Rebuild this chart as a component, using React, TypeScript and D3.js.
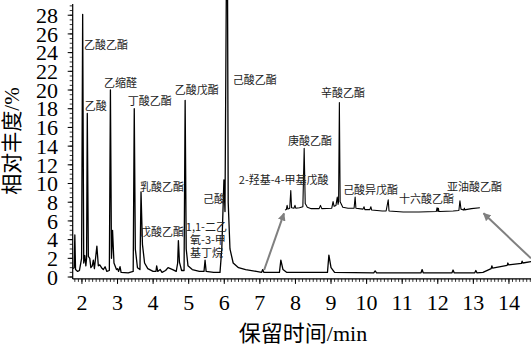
import React from "react";
import * as d3 from "d3";

// ---- data ----
const mainTime = [
  1.75, 1.78, 1.8, 1.82, 1.88, 1.93, 1.99, 2.02, 2.05, 2.08, 2.11, 2.13, 2.15, 2.18, 2.22, 2.25,
  2.29, 2.32, 2.35, 2.42, 2.46, 2.5, 2.55, 2.6, 2.65, 2.7, 2.77, 2.8, 2.83, 2.86, 2.9, 2.97,
  3.0, 3.03, 3.07, 3.1, 3.3, 3.44, 3.47, 3.5, 3.56, 3.63, 3.66, 3.7, 3.76, 3.85, 4.0, 4.08,
  4.1, 4.13, 4.2, 4.25, 4.35, 4.42, 4.55, 4.65, 4.69, 4.71, 4.74, 4.8, 4.87, 4.9, 4.93, 4.98,
  5.1, 5.3, 5.43, 5.46, 5.49, 5.7, 5.88, 5.93, 5.99, 6.02, 6.08, 6.11, 6.16, 6.25, 6.4, 6.6,
  6.9, 7.05, 7.08, 7.11, 7.55, 7.59, 7.65, 7.75, 8.9, 8.94, 9.0, 9.1, 10.2, 10.24, 10.28, 11.53,
  11.56, 11.59, 12.4, 12.43, 12.46, 13.04, 13.07, 13.1, 13.27, 13.5, 13.52, 13.54, 13.95, 13.97, 13.99, 14.35,
  14.37, 14.39, 14.62,
];
const mainAbund = [
  0.9, 1.0, 4.5, 0.8, 0.6, 0.7, 2.0, 28.1, 1.5, 2.3, 1.2, 2.0, 17.5, 2.2, 2.0, 1.0,
  1.2, 1.8, 0.9, 3.3, 1.2, 1.3, 1.0, 0.8, 1.1, 0.6, 0.7, 20.0, 2.0, 5.0, 1.5, 0.8,
  0.9, 0.6, 1.1, 0.5, 0.45, 0.6, 18.0, 3.0, 1.0, 0.8, 9.1, 3.5, 1.5, 0.9, 0.6, 0.6,
  1.2, 0.6, 0.8, 0.5, 0.7, 1.0, 0.8, 0.6, 1.5, 3.9, 1.6, 0.7, 0.7, 18.9, 3.0, 1.2,
  0.8, 0.6, 0.6, 1.8, 0.6, 0.5, 0.5, 3.0, 10.4, 7.0, 45.0, 8.0, 3.0, 1.5, 1.0, 0.8,
  0.6, 0.5, 0.8, 0.5, 0.5, 1.8, 0.8, 0.5, 0.5, 2.35, 1.0, 0.5, 0.45, 0.65, 0.45, 0.45,
  0.8, 0.45, 0.45, 0.75, 0.45, 0.45, 0.7, 0.45, 0.5, 0.9, 1.2, 0.95, 1.25, 1.5, 1.3, 1.45,
  1.7, 1.5, 1.65,
];

const insetTime = [
  7.1, 7.15, 7.18, 7.21, 7.28, 7.32, 7.35, 7.44, 7.48, 7.51, 7.65, 7.78, 7.83, 7.87, 7.95, 8.1,
  8.4, 8.45, 8.5, 8.88, 8.93, 8.97, 9.04, 9.09, 9.12, 9.14, 9.17, 9.2, 9.3, 9.5, 9.73, 9.77,
  9.8, 10.07, 10.11, 10.14, 10.33, 10.37, 10.4, 10.8, 10.95, 11.03, 11.06, 11.6, 12.2, 12.86, 12.89, 12.92,
  12.94, 12.96, 12.99, 13.5, 13.72, 13.76, 13.8, 13.9, 13.93, 13.95, 13.98, 14.2, 14.52,
];
const insetAbund = [
  0.1, 0.15, 0.6, 0.2, 0.3, 2.2, 0.35, 0.3, 0.6, 0.3, 0.35, 0.45, 6.7, 0.8, 0.4, 0.25,
  0.25, 0.6, 0.25, 0.3, 1.0, 0.5, 0.6, 1.5, 0.7, 1.0, 11.6, 1.0, 0.4, 0.3, 0.3, 1.5,
  0.3, 0.2, 0.45, 0.15, 0.15, 0.45, 0.1, 0.0, 0.0, 1.2, 0.0, -0.1, -0.1, -0.05, 0.35, -0.05,
  0.3, -0.05, -0.05, 0.0, 0.05, 1.1, 0.2, 0.1, 0.3, 0.1, 0.15, 0.25, 0.35,
];

const yTicks = [0, 2, 4, 6, 8, 10, 12, 14, 16, 18, 20, 22, 24, 26, 28];
const xTicks = [2, 3, 4, 5, 6, 7, 8, 9, 10, 11, 12, 13, 14];

const labelText = [
  "乙酸乙酯", "乙酸", "乙缩醛", "丁酸乙酯", "乙酸戊酯", "己酸乙酯", "辛酸乙酯", "庚酸乙酯",
  "2-羟基-4-甲基戊酸", "己酸异戊酯", "十六酸乙酯", "亚油酸乙酯", "己酸", "乳酸乙酯", "戊酸乙酯",
  "1,1-二乙", "氧-3-甲", "基丁烷",
];
// label anchor positions in data coordinates (time, abundance)
const labelTime = [2.06, 2.08, 2.62, 3.29, 4.61, 6.24, 8.72, 7.79, 6.41, 9.34, 10.91, 12.26, 5.4, 3.63, 3.63, 4.92, 5.04, 5.04];
const labelAbund = [24.8, 18.3, 20.7, 18.8, 20.0, 21.05, 19.7, 14.5, 10.4, 9.3, 8.3, 9.6, 8.3, 9.6, 4.8, 5.3, 3.95, 2.56];

const yTitle = "相对丰度/%";
const xTitle = "保留时间/min";

export default function App() {
  const W = 531, H = 351;
  const x = d3.scaleLinear().domain([1.74, 14.62]).range([72.7, 531]);
  const y = d3.scaleLinear().domain([-0.2, 29.2]).range([278.9, 4]);
  const pxPerUnit = (278.9 - 4) / 29.4;
  const xi = d3.scaleLinear().domain([7.1, 14.6]).range([285, 482]);
  const yi = d3.scaleLinear().domain([0, 20]).range([211, 211 - 20 * pxPerUnit]);

  const mainLine = d3
    .line<number>()
    .x((_, i) => x(mainTime[i]))
    .y((d) => y(d));
  const insetLine = d3
    .line<number>()
    .x((_, i) => xi(insetTime[i]))
    .y((d) => yi(d));

  const x0 = x.range()[0];
  const yb = y.range()[0];
  const xMinor = d3.range(1.8, 14.61, 0.1);
  const yMinor = d3.range(0, 29.01, 0.5);

  const serif = "'Liberation Serif', 'Times New Roman', 'Noto Sans CJK SC', serif";
  const cjk = "'Noto Sans CJK SC', 'DejaVu Sans', sans-serif";

  const lTail = [x(7.12), y(0.75)];
  const lHead = [xi(7.1) - 1, yi(-0.25)];
  const rTail = [x(14.62), y(2.0)];
  const rHead = [xi(14.6) + 1.5, yi(-0.25)];

  return (
    <svg
      width={W}
      height={H}
      style={{ position: "absolute", left: 0, top: 0, background: "#fff" }}
    >
      <defs>
        <marker id="ah" viewBox="0 0 10 10" refX="9" refY="5" markerWidth="4" markerHeight="4" orient="auto">
          <path d="M0,0 L10,5 L0,10 z" fill="#808080" />
        </marker>
      </defs>
      <rect x={0} y={0} width={W} height={H} fill="#fff" />

      {/* chromatogram */}
      <path d={mainLine(mainAbund) || ""} fill="none" stroke="#000" strokeWidth={1.3} strokeLinejoin="round" />
      <path d={insetLine(insetAbund) || ""} fill="none" stroke="#000" strokeWidth={1.1} strokeLinejoin="round" />

      {/* arrows */}
      <line x1={lTail[0]} y1={lTail[1]} x2={lHead[0]} y2={lHead[1]} stroke="#808080" strokeWidth={2} markerEnd="url(#ah)" />
      <line x1={rTail[0]} y1={rTail[1]} x2={rHead[0]} y2={rHead[1]} stroke="#808080" strokeWidth={2} markerEnd="url(#ah)" />

      {/* y axis */}
      <line x1={x0} x2={x0} y1={y.range()[1]} y2={yb} stroke="#000" strokeWidth={1.2} />
      {yMinor.map((v, i) => (
        <line key={"ym" + i} x1={x0 - 3} x2={x0} y1={y(v)} y2={y(v)} stroke="#000" strokeWidth={0.8} />
      ))}
      {yTicks.map((v) => (
        <g key={"yt" + v}>
          <line x1={x0 - 5} x2={x0} y1={y(v)} y2={y(v)} stroke="#000" strokeWidth={1} />
          <text x={58} y={y(v)} dy="0.35em" textAnchor="end" fontFamily={serif} fontSize={22} fill="#000">
            {v}
          </text>
        </g>
      ))}

      {/* x axis */}
      <line x1={x0} x2={W} y1={yb} y2={yb} stroke="#000" strokeWidth={1.2} />
      {xMinor.map((t, i) => (
        <line key={"xm" + i} x1={x(t)} x2={x(t)} y1={yb} y2={yb + 3} stroke="#000" strokeWidth={0.8} />
      ))}
      {xTicks.map((t) => (
        <g key={"xt" + t}>
          <line x1={x(t)} x2={x(t)} y1={yb} y2={yb + 5} stroke="#000" strokeWidth={1} />
          <text x={x(t)} y={309.5} textAnchor="middle" fontFamily={serif} fontSize={22} fill="#000">
            {t}
          </text>
        </g>
      ))}

      {/* titles */}
      <text
        transform={`translate(19,141) rotate(-90)`}
        textAnchor="middle"
        fontFamily={serif}
        fontSize={21}
        fill="#000"
      >
        {yTitle}
      </text>
      <text x={303} y={341} textAnchor="middle" fontFamily={serif} fontSize={22} fill="#000">
        {xTitle}
      </text>

      {/* peak labels */}
      {labelText.map((s, i) => (
        <text
          key={"lb" + i}
          x={x(labelTime[i])}
          y={y(labelAbund[i])}
          dy="0.36em"
          fontFamily={cjk}
          fontSize={11}
          fill="#222"
        >
          {s}
        </text>
      ))}
    </svg>
  );
}
